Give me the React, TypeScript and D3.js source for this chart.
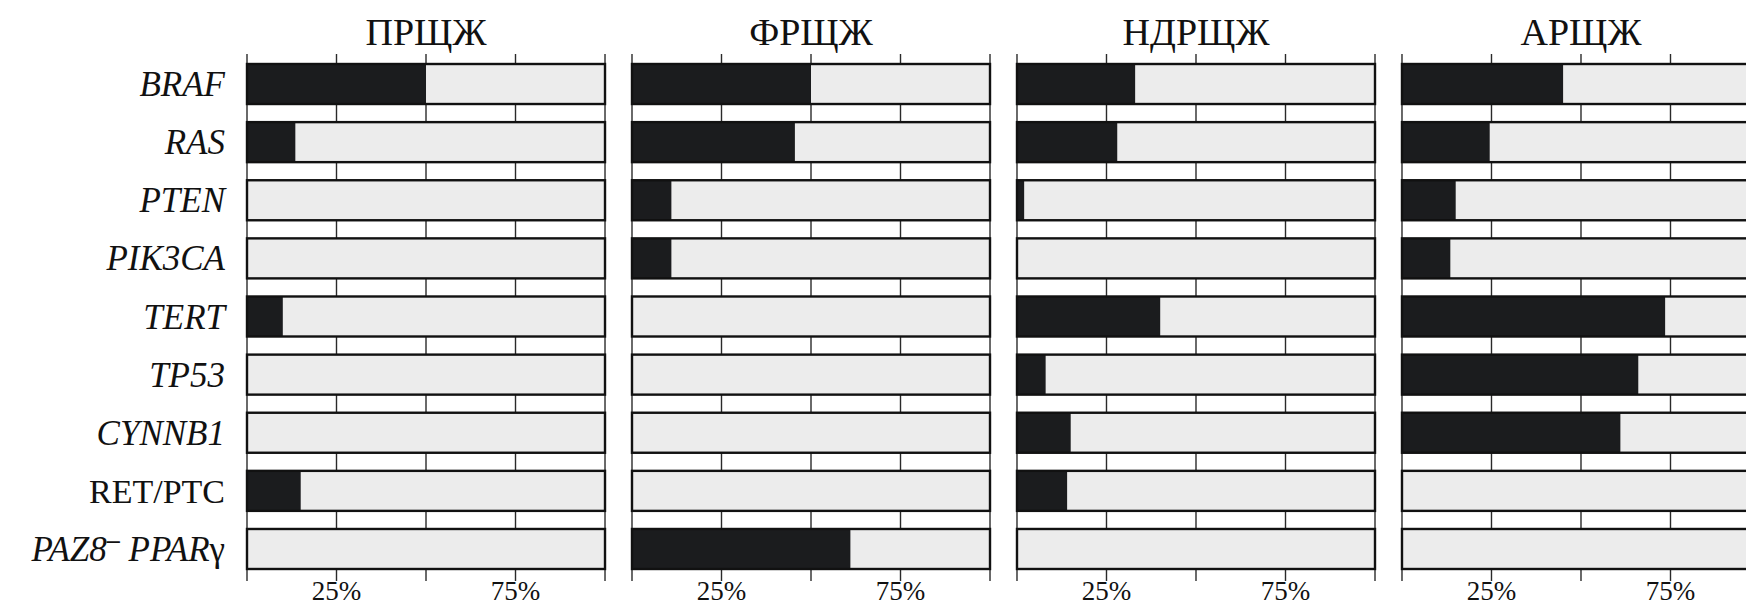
import * as d3 from "d3";

const groups = ["ПРЩЖ", "ФРЩЖ", "НДРЩЖ", "АРЩЖ"];
const genes = ["BRAF", "RAS", "PTEN", "PIK3CA", "TERT", "TP53", "CYNNB1", "RET/PTC", "PAZ8-PPARγ"];

// share of cases with the alteration, %
const ptc = [50, 13.5, 0, 0, 10, 0, 0, 15, 0];
const ftc = [50, 45.5, 11, 11, 0, 0, 0, 0, 61];
const pdtc = [33, 28, 2, 0, 40, 8, 15, 14, 0];
const atc = [45, 24.5, 15, 13.5, 73.5, 66, 61, 0, 0];
const series = [ptc, ftc, pdtc, atc];

const gridTicks = [0, 25, 50, 75, 100];
const labelTicks = [25, 75];

const width = 1746;
const height = 610;
const font = "'Liberation Serif', 'Times New Roman', serif";

function GeneLabel({ name, x, y }: { name: string; x: number; y: number }) {
  if (name === "RET/PTC") {
    return (
      <text x={x} y={y} textAnchor="end" fontSize={34}>
        {name}
      </text>
    );
  }
  if (name.startsWith("PAZ8")) {
    return (
      <text x={x} y={y} textAnchor="end" fontSize={35} fontStyle="italic">
        PAZ8
        <tspan dy={-13} fontWeight="bold" fontStyle="normal" fontSize={26}>–</tspan>
        <tspan dy={13}> PPAR</tspan>
        <tspan fontStyle="normal">γ</tspan>
      </text>
    );
  }
  return (
    <text x={x} y={y} textAnchor="end" fontSize={35} fontStyle="italic">
      {name}
    </text>
  );
}

export default function App() {
  const panel = d3.scaleBand().domain(groups).range([247, 1760]).paddingInner(0.0701);
  const y = d3.scaleBand().domain(genes).range([64, 569]).paddingInner(0.3115);
  const top = 54;
  const bottom = 581;

  return (
    <svg
      width={width}
      height={height}
      style={{ position: "absolute", left: 0, top: 0, background: "#fff" }}
      fontFamily={font}
      fill="#111"
    >
      {groups.map((g, gi) => {
        const x0 = panel(g)!;
        const x = d3.scaleLinear().domain([0, 100]).range([x0, x0 + panel.bandwidth()]);
        const values = series[gi];
        return (
          <g key={g}>
            <text x={(x(0) + x(100)) / 2} y={45} textAnchor="middle" fontSize={38}>
              {g}
            </text>
            {gridTicks.map((t) => (
              <line key={t} x1={x(t)} x2={x(t)} y1={top} y2={bottom} stroke="#2a2a2a" strokeWidth={1.4} />
            ))}
            {genes.map((gene, i) => {
              const by = y(gene)!;
              const bh = y.bandwidth();
              return (
                <g key={gene}>
                  <rect x={x(0)} y={by} width={x(100) - x(0)} height={bh} fill="#ececec" />
                  {values[i] > 0 && (
                    <rect x={x(0)} y={by} width={x(values[i]) - x(0)} height={bh} fill="#1b1c1e" />
                  )}
                  <rect
                    x={x(0)}
                    y={by}
                    width={x(100) - x(0)}
                    height={bh}
                    fill="none"
                    stroke="#111"
                    strokeWidth={2.4}
                  />
                </g>
              );
            })}
            {labelTicks.map((t) => (
              <text key={t} x={x(t)} y={600} textAnchor="middle" fontSize={27}>
                {t}%
              </text>
            ))}
          </g>
        );
      })}
      {genes.map((gene) => (
        <GeneLabel key={gene} name={gene} x={225} y={y(gene)! + y.bandwidth() / 2 + 12} />
      ))}
    </svg>
  );
}
